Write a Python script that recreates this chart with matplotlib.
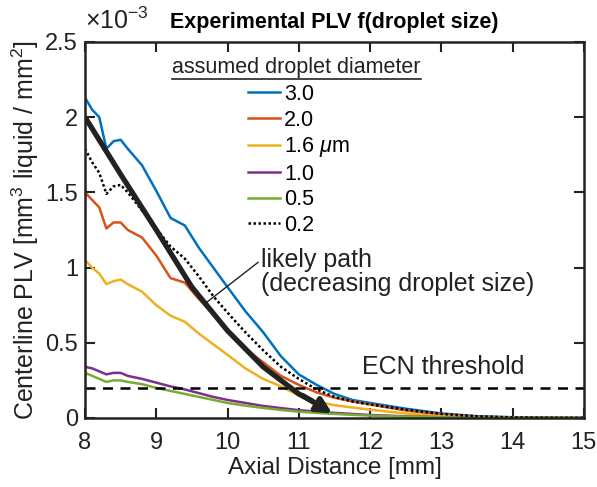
import matplotlib
matplotlib.use('Agg')
import matplotlib.pyplot as plt
from matplotlib.lines import Line2D
from matplotlib.ticker import FormatStrFormatter

plt.rcParams['font.family'] = ['Liberation Sans', 'DejaVu Sans']
plt.rcParams['mathtext.fontset'] = 'custom'
plt.rcParams['mathtext.rm'] = 'Liberation Sans'
plt.rcParams['mathtext.it'] = 'Liberation Sans:italic'

### data (PLV in units of 1e-3 mm^3 liquid / mm^2)
axialDist = [8.0, 8.1, 8.2, 8.3, 8.4, 8.5, 8.6, 8.8, 9.0, 9.2, 9.4, 9.6, 9.8, 10.0,
             10.25, 10.5, 10.75, 11.0, 11.25, 11.5, 11.75, 12.0, 12.5, 13.0, 13.5, 14.0, 14.5, 15.0]

plv30 = [2.13, 2.05, 2.00, 1.79, 1.84, 1.85, 1.79, 1.68, 1.51, 1.33, 1.28, 1.13, 1.00, 0.87,
         0.71, 0.57, 0.41, 0.29, 0.22, 0.16, 0.12, 0.10, 0.062, 0.030, 0.012, 0.005, 0.002, 0.001]
plv20 = [1.50, 1.45, 1.40, 1.26, 1.30, 1.30, 1.25, 1.20, 1.08, 0.93, 0.90, 0.79, 0.69, 0.59,
         0.46, 0.37, 0.28, 0.22, 0.17, 0.135, 0.11, 0.09, 0.05, 0.022, 0.008, 0.003, 0.001, 0.0]
plv16 = [1.05, 1.00, 0.96, 0.89, 0.91, 0.92, 0.89, 0.84, 0.75, 0.68, 0.64, 0.56, 0.49, 0.42,
         0.33, 0.26, 0.21, 0.15, 0.11, 0.085, 0.07, 0.055, 0.03, 0.012, 0.004, 0.001, 0.0, 0.0]
plv10 = [0.34, 0.33, 0.31, 0.29, 0.30, 0.30, 0.28, 0.26, 0.235, 0.21, 0.19, 0.165, 0.14, 0.12,
         0.10, 0.08, 0.066, 0.052, 0.042, 0.034, 0.027, 0.02, 0.011, 0.005, 0.002, 0.001, 0.0, 0.0]
plv05 = [0.30, 0.28, 0.26, 0.24, 0.25, 0.25, 0.24, 0.225, 0.20, 0.18, 0.16, 0.14, 0.12, 0.10,
         0.082, 0.067, 0.053, 0.042, 0.034, 0.027, 0.021, 0.016, 0.009, 0.004, 0.002, 0.001, 0.0, 0.0]
plv02 = [1.79, 1.70, 1.63, 1.49, 1.54, 1.55, 1.50, 1.38, 1.26, 1.14, 1.06, 0.94, 0.81, 0.70,
         0.57, 0.45, 0.34, 0.26, 0.19, 0.14, 0.11, 0.09, 0.055, 0.027, 0.011, 0.004, 0.002, 0.001]

pathX = [8.0, 8.5, 9.0, 9.5, 10.0, 10.5, 11.0, 11.2]
pathY = [2.00, 1.62, 1.25, 0.87, 0.58, 0.34, 0.16, 0.11]
pathTip = (11.47, 0.03)

ecnThreshold = 0.2

series = [(plv30, '3.0', '#0072BD', '-'),
          (plv20, '2.0', '#D95319', '-'),
          (plv16, '1.6 $\\mu$m', '#EDB120', '-'),
          (plv10, '1.0', '#7E2F8E', '-'),
          (plv05, '0.5', '#77AC30', '-'),
          (plv02, '0.2', 'k', (0, (1, 1)))]

### plot
fig = plt.figure(figsize=(5.97, 4.87), dpi=100)
ax = fig.add_axes([0.1424, 0.1417, 0.978 - 0.1424, 0.9138 - 0.1417])

handles = []
for vals, name, col, ls in series:
    h, = ax.plot(axialDist, vals, color=col, linestyle=ls, linewidth=1.8, label=name)
    handles.append(h)

ax.plot([8, 15], [ecnThreshold] * 2, 'k--', linewidth=1.8, dashes=(4, 3))

ax.plot(pathX, pathY, color='#222222', linewidth=3.8, solid_capstyle='butt')
ax.annotate('', xy=pathTip, xytext=(pathX[-2] + 0.05, 0.15),
            arrowprops=dict(arrowstyle='-|>,head_length=0.9,head_width=0.45', color='#222222',
                            linewidth=3.8, shrinkA=0, shrinkB=0))

ax.annotate('likely path\n(decreasing droplet size)', xy=(9.71, 0.77),
            xytext=(10.47, 1.13), fontsize=18, va='top', ha='left', color='#222222',
            linespacing=1.0,
            arrowprops=dict(arrowstyle='-', color='#222222', linewidth=1.0,
                            shrinkA=0, shrinkB=0, relpos=(0.0, 0.75)))

ax.text(11.88, 0.34, 'ECN threshold', fontsize=18, va='center', ha='left', color='#222222')

ax.set_xlim(8, 15)
ax.set_ylim(0, 2.5)
ax.set_xticks(range(8, 16))
ax.set_yticks([0, 0.5, 1, 1.5, 2, 2.5])
ax.yaxis.set_major_formatter(FormatStrFormatter('%g'))
ax.text(0.0, 1.02, '$\\times10^{-3}$', transform=ax.transAxes, fontsize=18, ha='left',
        va='bottom', color='#222222')
ax.tick_params(direction='in', length=7, width=1.5, labelsize=17, top=True, right=True,
               colors='#222222')
ax.tick_params(axis='x', pad=10)
ax.tick_params(axis='y', pad=5)
for sp in ax.spines.values():
    sp.set_linewidth(1.8)
    sp.set_color('#222222')

ax.set_xlabel('Axial Distance [mm]', fontsize=17.5, color='#222222', labelpad=2)
ax.set_ylabel('Centerline PLV [mm$^3$ liquid / mm$^2$]', fontsize=18, color='#222222', labelpad=3)
ax.set_title('Experimental PLV f(droplet size)', fontsize=15.5, fontweight='bold', pad=10)

leg = ax.legend(handles=handles, loc='upper left', bbox_to_anchor=(252 / 597 - 0.006, 1 - 84 / 487),
                bbox_transform=fig.transFigure, frameon=False, fontsize=15.5,
                handlelength=1.45, handletextpad=0.2, labelspacing=0.21, borderaxespad=0,
                borderpad=0)

tt = fig.text(172 / 597, 1 - 68 / 487, 'assumed droplet diameter', fontsize=15.5, va='center',
              ha='left', color='#222222')
fig.canvas.draw()
bb = tt.get_window_extent().transformed(fig.transFigure.inverted())
fig.add_artist(Line2D([bb.x0, bb.x1], [bb.y0 - 0.001, bb.y0 - 0.001], color='#222222',
                      linewidth=1.2, transform=fig.transFigure))

fig.savefig('out.png', dpi=100)
